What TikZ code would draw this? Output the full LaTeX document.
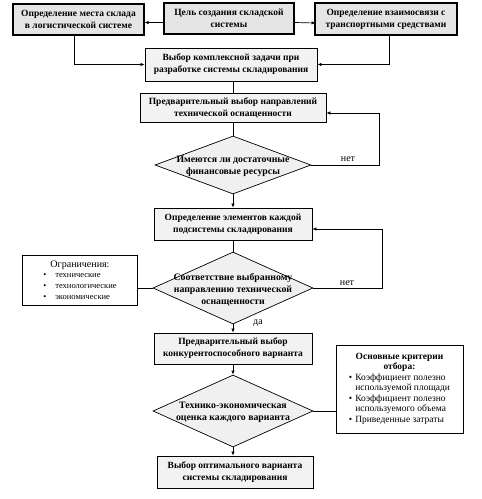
\documentclass[tikz,border=0pt]{standalone}
\usepackage{fontspec}
\setmainfont{Liberation Serif}
\usetikzlibrary{shapes.geometric,arrows.meta,calc}
\begin{document}
\begin{tikzpicture}[x=1pt,y=-1pt,
 box/.style={draw,line width=0.8pt,fill=gray!10,font=\bfseries\fontsize{9.5}{12}\selectfont,align=center,inner sep=0pt},
 topbox/.style={box,fill=gray!20,line width=1.1pt},
 dia/.style={diamond,draw,line width=0.7pt,fill=gray!12,inner sep=0pt},
 dtext/.style={font=\bfseries\fontsize{9.8}{12}\selectfont,align=center,inner sep=0pt},
 note/.style={draw,line width=0.8pt,fill=white,inner sep=0pt},
 arr/.style={-{Latex[length=4pt,width=3.5pt]},line width=0.7pt},
 ln/.style={line width=0.7pt},
 lbl/.style={font=\fontsize{10}{11}\selectfont,inner sep=0pt}
]
\useasboundingbox (0,0) rectangle (482,499);
% top row
\node[topbox,minimum width=131,minimum height=31] (A) at (78.5,19.5) {Определение места склада\\в логистической системе};
\node[topbox,minimum width=130,minimum height=31] (B) at (229,18.5) {Цель создания складской\\системы};
\node[topbox,minimum width=142,minimum height=32] (C) at (386,19) {Определение взаимосвязи с\\транспортными средствами};
% main column
\node[box,minimum width=172,minimum height=33] (D) at (231,64.5) {Выбор комплексной задачи при\\разработке системы складирования};
\node[box,minimum width=186,minimum height=29] (E) at (233,107.5) {Предварительный выбор направлений\\технической оснащенности};
\node[dia,minimum width=156,minimum height=58] (d1) at (233,165) {};
\node[dtext] (d1t) at (233,166) {Имеются ли достаточные\\финансовые ресурсы};
\node[box,minimum width=158,minimum height=32] (F) at (233,224) {Определение элементов каждой\\подсистемы складирования};
\node[dia,minimum width=160,minimum height=72] (d2) at (233,288) {};
\node[dtext] (d2t) at (233,290) {Соответствие выбранному\\направлению технической\\оснащенности};
\node[box,minimum width=158,minimum height=31] (G) at (233,348.5) {Предварительный выбор\\конкурентоспособного варианта};
\node[dia,minimum width=160,minimum height=72] (d3) at (233,411) {};
\node[dtext] (d3t) at (233,412) {Технико-экономическая\\оценка каждого варианта};
\node[box,minimum width=156,minimum height=32] (H) at (235,472) {Выбор оптимального варианта\\системы складирования};
% side notes
\node[note,minimum width=115,minimum height=50] (L) at (79.5,280) {};
\node[inner sep=0pt,font=\fontsize{8.5}{11}\selectfont] (Lt) at (80,281) {%
\begin{tabular}{@{}c@{\hspace{9pt}}l@{}}
\multicolumn{2}{c}{\fontsize{10}{11}\selectfont Ограничения:}\\[-1pt]
\textbullet & технические\\
\textbullet & технологические\\
\textbullet & экономические
\end{tabular}};
\node[note,minimum width=127,minimum height=88] (K) at (399.5,389) {};
\node[inner sep=0pt,font=\fontsize{9.5}{10}\selectfont] (Kt) at (399.5,389) {%
\begin{tabular}{@{}c@{\hspace{3pt}}l@{}}
\multicolumn{2}{c}{\bfseries Основные критерии}\\
\multicolumn{2}{c}{\bfseries отбора:}\\[1pt]
\textbullet & Коэффициент полезно\\
 & используемой площади\\[1pt]
\textbullet & Коэффициент полезно\\
 & используемого объема\\[1pt]
\textbullet & Приведенные затраты
\end{tabular}};
% connectors
\draw[arr] ($(B.west)+(0,4)$) -- ($(A.east)+(0,3)$);
\draw[arr] ($(B.east)+(0,4)$) -- ($(C.east)+(-142,4)$);
\draw[arr] ([xshift=-4.5pt]A.south) |- (D.west);
\draw[arr] ([xshift=3pt]C.south) |- (D.east);
\draw[ln] (D.south -| E.north) -- (E.north);
\draw[ln] (E.south) -- (d1.north);
\coordinate (r1) at (379,165);
\draw[arr] (d1.east) -- (r1) |- ($(E.east)+(0,5.5)$);
\node[lbl] (n1) at (348,159) {нет};
\draw[arr] (d1.south) -- (F.north);
\draw[ln] (F.south) -- (d2.north);
\coordinate (r2) at (382,288);
\draw[arr] (d2.east) -- (r2) |- ($(F.east)+(0,5)$);
\node[lbl] (n2) at (347,283) {нет};
\node[lbl] (y1) at (258,323) {да};
\draw[ln] (L.east |- d2.west) -- (d2.west);
\draw[arr] (d2.south) -- (G.north);
\draw[arr] (G.south) -- (d3.north);
\draw[ln] (d3.east) -- (d3.east -| K.west);
\draw[arr] (d3.south) -- (d3.south |- H.north);
\end{tikzpicture}
\end{document}
